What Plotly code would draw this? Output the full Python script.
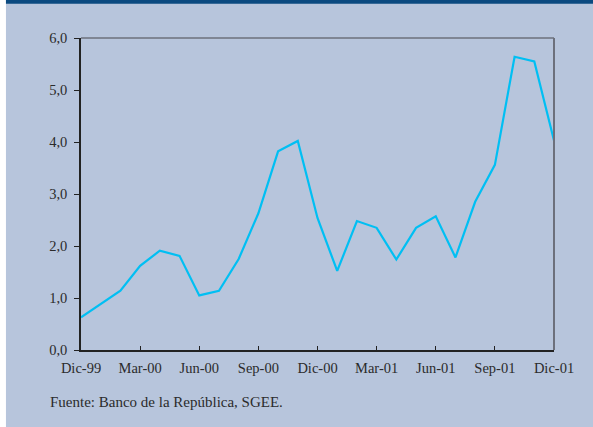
import plotly.graph_objects as go

months = ["Dic-99", "Ene-00", "Feb-00", "Mar-00", "Abr-00", "May-00", "Jun-00",
          "Jul-00", "Ago-00", "Sep-00", "Oct-00", "Nov-00", "Dic-00",
          "Ene-01", "Feb-01", "Mar-01", "Abr-01", "May-01", "Jun-01",
          "Jul-01", "Ago-01", "Sep-01", "Oct-01", "Nov-01", "Dic-01"]
values = [0.63, 0.88, 1.14, 1.62, 1.91, 1.81, 1.05,
          1.14, 1.75, 2.63, 3.82, 4.02, 2.54,
          1.52, 2.48, 2.35, 1.74, 2.35, 2.57,
          1.78, 2.85, 3.56, 5.64, 5.55, 4.03]
tick_labels = ["Dic-99", "Mar-00", "Jun-00", "Sep-00", "Dic-00",
               "Mar-01", "Jun-01", "Sep-01", "Dic-01"]
y_ticks = [0, 1, 2, 3, 4, 5, 6]
source_text = "Fuente: Banco de la República, SGEE."

W, H = 593, 427
L, R, T, B = 81, 553.7, 37.5, 350.0
pw, ph = R - L, B - T

def px(x):
    return (x - L) / pw

def py(y):
    return (B - y) / ph

BG = "#b7c5dc"
FONT = "Liberation Serif, Times New Roman, serif"
TXT = "#2b2b2b"

fig = go.Figure()
fig.add_trace(go.Scatter(x=months, y=values, mode="lines",
                         line=dict(color="#00bff3", width=2.2),
                         hoverinfo="x+y"))

shapes = [
    dict(type="rect", xref="paper", yref="paper", x0=px(-2), x1=px(6),
         y0=py(-2), y1=py(430), fillcolor="white", line_width=0, layer="below"),
    dict(type="rect", xref="paper", yref="paper", x0=px(6), x1=px(600),
         y0=py(-2), y1=py(3.2), fillcolor="#0b4a80", line_width=0, layer="below"),
    dict(type="line", xref="paper", yref="paper", x0=0, x1=1, y0=1, y1=1,
         line=dict(color="#6c707c", width=1.5)),
    dict(type="line", xref="paper", yref="paper", x0=1, x1=1, y0=0, y1=1,
         line=dict(color="#6c707c", width=2)),
]

fig.update_layout(
    width=W, height=H,
    margin=dict(l=L, r=W - R, t=T, b=H - B, pad=0),
    paper_bgcolor=BG, plot_bgcolor=BG,
    separators=",.",
    showlegend=False,
    font=dict(family=FONT, size=14, color=TXT),
    shapes=shapes,
    annotations=[dict(text=source_text, xref="paper", yref="paper",
                      x=px(48), y=py(402.5), xanchor="left", yanchor="middle",
                      showarrow=False, font=dict(family=FONT, size=15, color=TXT))],
)
fig.update_xaxes(type="category", range=[0, len(months) - 1],
                 tickmode="array", tickvals=tick_labels, ticktext=tick_labels,
                 ticks="inside", ticklen=4, tickwidth=1.2, tickcolor="#222222",
                 showline=True, linecolor="#222222", linewidth=1.5,
                 showgrid=False, zeroline=False, ticklabelstandoff=4,
                 tickfont=dict(family=FONT, size=14.5, color=TXT))
fig.update_yaxes(range=[0, 6], tickmode="array", tickvals=y_ticks,
                 tickformat=".1f",
                 ticks="outside", ticklen=5, tickwidth=1.2, tickcolor="#222222",
                 showline=True, linecolor="#222222", linewidth=1.5,
                 showgrid=False, zeroline=False, ticklabelstandoff=4,
                 tickfont=dict(family=FONT, size=14.5, color=TXT))

fig.write_html("out.html", config={"displayModeBar": False},
               post_script="document.body.style.margin='0';document.body.style.overflow='hidden';document.body.style.background='#b7c5dc';")
